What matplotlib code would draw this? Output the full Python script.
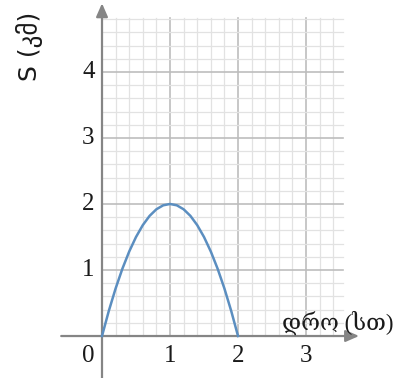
import matplotlib
matplotlib.use("Agg")
import matplotlib.pyplot as plt
import numpy as np

# distance vs time, read at 0.1 h steps
t_vals = [0.0, 0.1, 0.2, 0.3, 0.4, 0.5, 0.6, 0.7, 0.8, 0.9, 1.0,
          1.1, 1.2, 1.3, 1.4, 1.5, 1.6, 1.7, 1.8, 1.9, 2.0]
s_vals = [0.0, 0.38, 0.72, 1.02, 1.28, 1.5, 1.68, 1.82, 1.92, 1.98, 2.0,
          1.98, 1.92, 1.82, 1.68, 1.5, 1.28, 1.02, 0.72, 0.38, 0.0]

x_ticks = [1, 2, 3]
y_ticks = [1, 2, 3, 4]
x_label = "დრო (სთ)"
y_label = "S (კმ)"

fam = ["Liberation Serif", "DejaVu Serif", "DejaVu Sans"]
axis_col = "#858585"
txt_col = "#1a1a1a"

fig = plt.figure(figsize=(4.14, 3.78), dpi=100)
ax = fig.add_axes([0, 0, 1, 1])
ax.set_xlim(-1.5, 4.588)
ax.set_ylim(-0.636, 5.09)
ax.axis("off")

# grid: minor every 0.2, major every 1
gx, gy = 3.54, 4.82
for v in np.arange(0.2, gx, 0.2):
    major = abs(v - round(v)) < 1e-6
    ax.plot([v, v], [0, gy], color="#bdbdbd" if major else "#e2e2e2",
            lw=1.2 if major else 0.9, zorder=1)
for v in np.arange(0.2, gy, 0.2):
    major = abs(v - round(v)) < 1e-6
    ax.plot([0, gx], [v, v], color="#bdbdbd" if major else "#e2e2e2",
            lw=1.2 if major else 0.9, zorder=1)

# axes with arrow heads
ax.annotate("", xy=(3.78, 0), xytext=(-0.6, 0),
            arrowprops=dict(arrowstyle="-|>,head_length=0.8,head_width=0.35",
                            color=axis_col, lw=1.6, shrinkA=0, shrinkB=0), zorder=3)
ax.annotate("", xy=(0, 5.04), xytext=(0, -0.7),
            arrowprops=dict(arrowstyle="-|>,head_length=0.8,head_width=0.35",
                            color=axis_col, lw=1.6, shrinkA=0, shrinkB=0), zorder=3)

ax.plot(t_vals, s_vals, color="#5b8ec0", lw=1.8, zorder=4)

for v in x_ticks:
    ax.text(v, -0.3, str(v), ha="center", va="center", fontsize=18, family=fam, color=txt_col)
ax.text(-0.2, -0.3, "0", ha="center", va="center", fontsize=18, family=fam, color=txt_col)
for v in y_ticks:
    ax.text(-0.2, v, str(v), ha="center", va="center", fontsize=18, family=fam, color=txt_col)

ax.text(3.47, 0.2, x_label, ha="center", va="center", fontsize=16.5, family=fam, color=txt_col)
ax.text(-1.06, 4.39, y_label, ha="center", va="center", rotation=90, fontsize=18,
        family=["DejaVu Sans"], color=txt_col)

fig.savefig("out.png", dpi=100, facecolor="white")
